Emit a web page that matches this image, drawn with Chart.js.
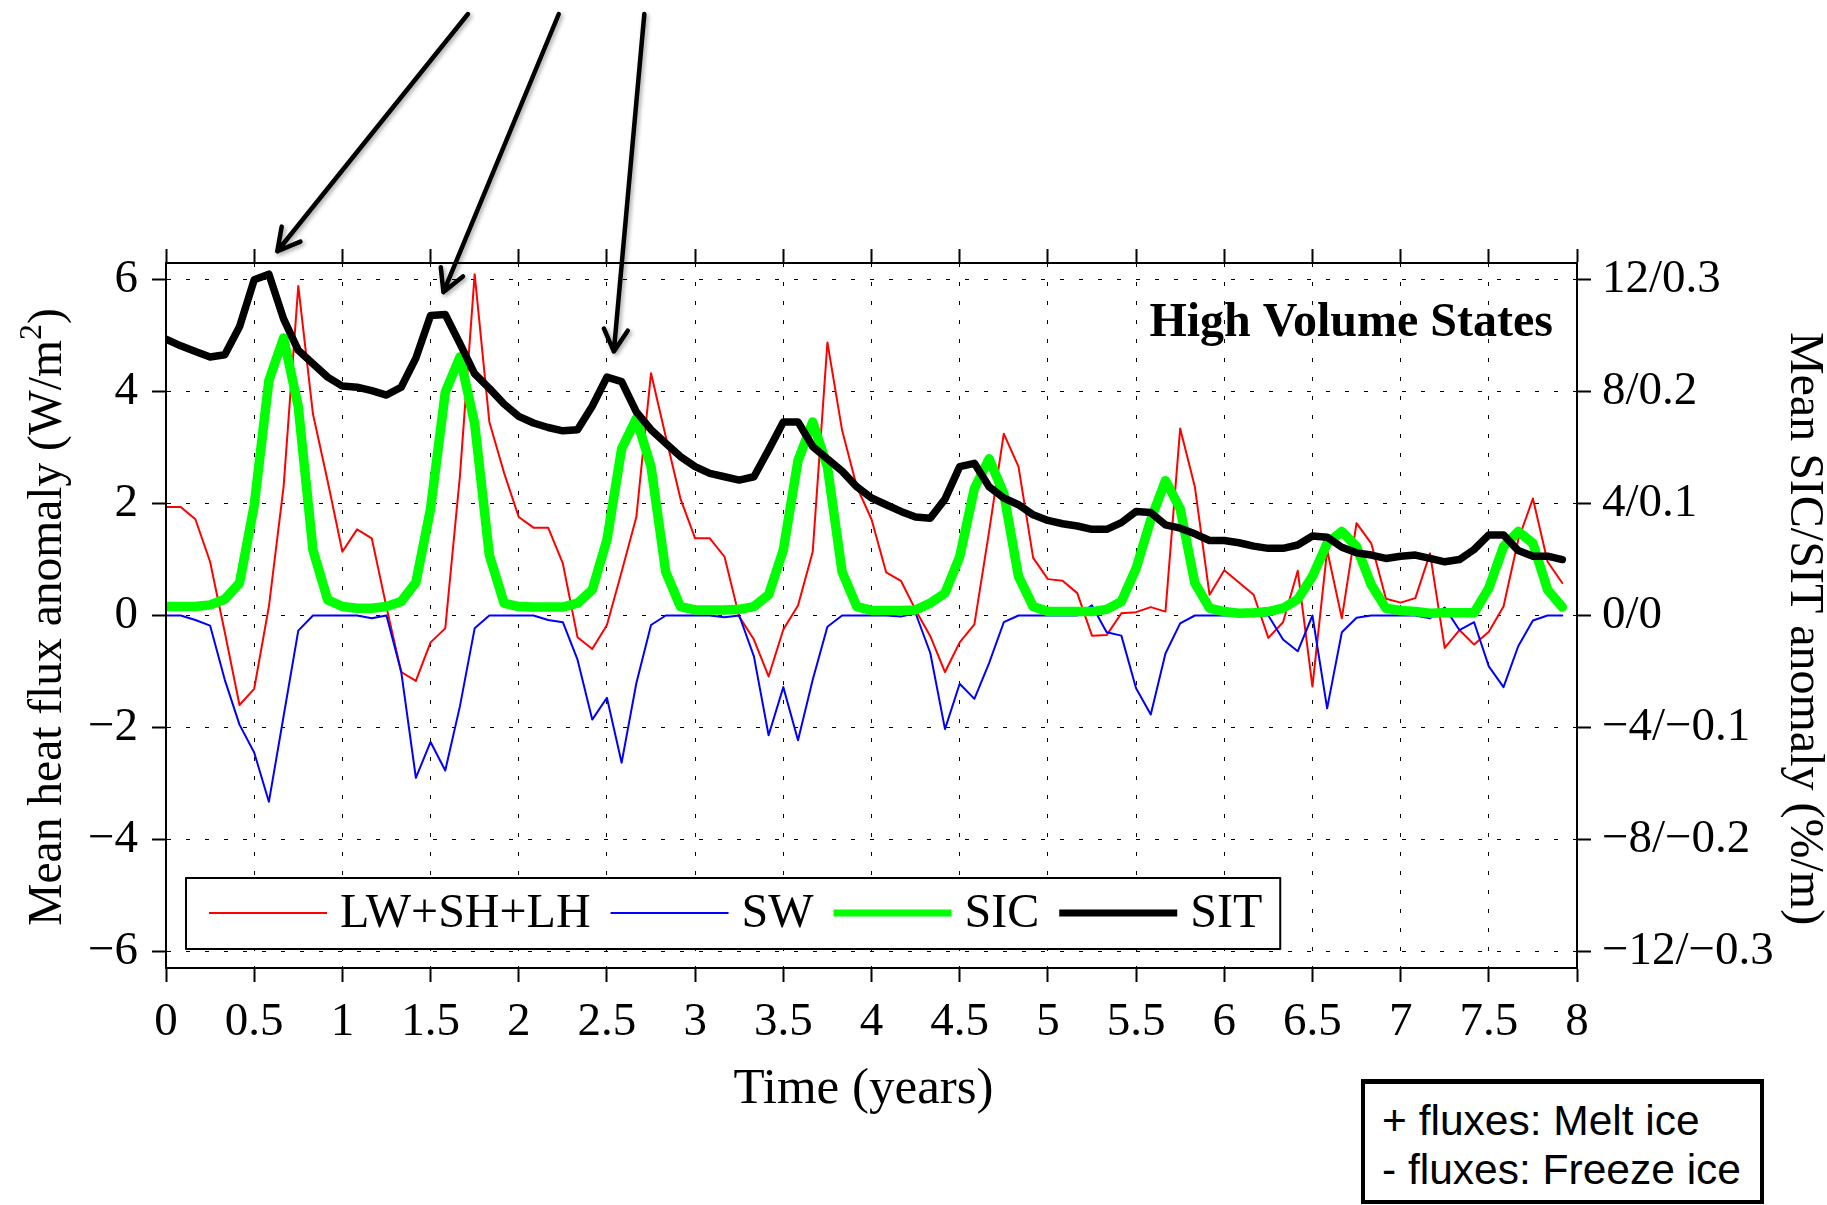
<!DOCTYPE html>
<html>
<head>
<meta charset="utf-8">
<script src="https://cdn.jsdelivr.net/npm/chart.js@4.4.1/dist/chart.umd.min.js"></script>
<style>
    html, body { margin: 0; padding: 0; background: #fff; }
    #wrap { position: relative; width: 1827px; height: 1205px; }
    #note {
        position: absolute; left: 1361px; top: 1079px; width: 403px; height: 125px;
        box-sizing: border-box; border: 4px solid #000; border-top-width: 5px;
        padding: 12px 0 0 17px; background: #fff; color: #000;
        font-family: 'Liberation Sans', Arial, sans-serif; font-size: 42.5px; line-height: 49px;
        white-space: nowrap;
    }
</style>
</head>
<body>
<div id="wrap">
    <canvas id="myChart01" width="1827" height="1205"></canvas>
    <div id="note">+ fluxes: Melt ice<br>- fluxes: Freeze ice</div>
</div>
<script>
//月資料 (8 年, 每月一點)
var timeYears = [];
for (var i = 0; i < 96; i++) timeYears.push(i / 12);

//LW+SH+LH (W/m2)
var fluxLwShLh = [
    1.94, 1.94, 1.72, 0.96, -0.30, -1.60, -1.31, 0.16, 2.30, 5.89, 3.60, 2.40,
    1.14, 1.54, 1.38, 0.15, -1.01, -1.17, -0.48, -0.23, 2.50, 6.10, 3.46, 2.55,
    1.76, 1.57, 1.57, 0.93, -0.39, -0.60, -0.17, 0.78, 1.76, 4.33, 3.20, 2.09,
    1.38, 1.38, 1.05, -0.02, -0.43, -1.09, -0.25, 0.18, 1.14, 4.88, 3.31, 2.30,
    1.72, 0.77, 0.62, 0.10, -0.37, -1.01, -0.48, -0.16, 1.50, 3.25, 2.66, 1.03,
    0.65, 0.62, 0.40, -0.36, -0.35, 0.04, 0.06, 0.15, 0.07, 3.34, 2.30, 0.37,
    0.81, 0.59, 0.37, -0.40, -0.12, 0.80, -1.27, 1.17, -0.05, 1.65, 1.29, 0.30,
    0.23, 0.31, 1.11, -0.58, -0.26, -0.52, -0.29, 0.16, 1.35, 2.09, 0.96, 0.58
];

//SW (W/m2)
var fluxSw = [
    0, 0, -0.08, -0.18, -1.15, -1.95, -2.45, -3.33, -1.80, -0.27, 0, 0,
    0, 0, -0.05, 0, -1.00, -2.90, -2.26, -2.77, -1.62, -0.23, 0, 0,
    0, 0, -0.08, -0.12, -0.79, -1.86, -1.47, -2.63, -1.21, -0.17, 0, 0,
    0, 0, -0.03, 0, -0.73, -2.14, -1.28, -2.23, -1.15, -0.20, 0, 0,
    0, 0, -0.02, 0.04, -0.67, -2.03, -1.22, -1.49, -0.85, -0.12, 0, 0,
    0, 0, 0, 0.18, -0.30, -0.36, -1.30, -1.77, -0.68, -0.14, 0, 0,
    0, 0, 0, 0, -0.43, -0.64, 0, -1.66, -0.30, -0.04, 0, 0,
    0, 0, -0.05, 0.14, -0.26, -0.12, -0.91, -1.28, -0.55, -0.09, 0, 0
];

//SIC (%)
var sicPercent = [
    0.32, 0.32, 0.32, 0.38, 0.58, 1.16, 3.94, 8.40, 9.92, 7.46, 2.34, 0.56,
    0.32, 0.26, 0.26, 0.32, 0.50, 1.18, 3.82, 7.98, 9.24, 6.86, 2.16, 0.44,
    0.32, 0.30, 0.30, 0.30, 0.44, 0.92, 2.70, 5.96, 7.04, 5.32, 1.56, 0.32,
    0.20, 0.20, 0.20, 0.22, 0.32, 0.74, 2.34, 5.54, 6.92, 5.32, 1.56, 0.32,
    0.18, 0.18, 0.18, 0.20, 0.44, 0.80, 2.10, 4.54, 5.60, 4.36, 1.40, 0.32,
    0.14, 0.14, 0.14, 0.14, 0.22, 0.50, 1.68, 3.42, 4.82, 3.82, 1.16, 0.26,
    0.14, 0.08, 0.10, 0.14, 0.26, 0.58, 1.40, 2.58, 3.00, 2.46, 1.10, 0.26,
    0.18, 0.14, 0.08, 0.10, 0.10, 0.10, 0.98, 2.46, 3.00, 2.58, 0.92, 0.30
];

//SIT (m)
var sitMetres = [
    0.247, 0.241, 0.236, 0.231, 0.233, 0.258, 0.300, 0.305, 0.265, 0.237, 0.225, 0.213,
    0.205, 0.204, 0.201, 0.197, 0.204, 0.230, 0.268, 0.269, 0.243, 0.216, 0.203, 0.189,
    0.178, 0.172, 0.168, 0.165, 0.166, 0.187, 0.213, 0.209, 0.182, 0.166, 0.154, 0.142,
    0.133, 0.127, 0.124, 0.121, 0.124, 0.148, 0.173, 0.173, 0.151, 0.140, 0.129, 0.115,
    0.105, 0.099, 0.093, 0.088, 0.087, 0.104, 0.133, 0.136, 0.115, 0.105, 0.099, 0.090,
    0.085, 0.082, 0.080, 0.077, 0.077, 0.083, 0.093, 0.092, 0.081, 0.078, 0.073, 0.067,
    0.067, 0.065, 0.062, 0.060, 0.060, 0.063, 0.071, 0.070, 0.061, 0.056, 0.054, 0.051,
    0.053, 0.054, 0.051, 0.048, 0.050, 0.059, 0.072, 0.072, 0.058, 0.053, 0.053, 0.050
];

var xTicks = [0, 0.5, 1, 1.5, 2, 2.5, 3, 3.5, 4, 4.5, 5, 5.5, 6, 6.5, 7, 7.5, 8];
var xTickLabels = ['0', '0.5', '1', '1.5', '2', '2.5', '3', '3.5', '4', '4.5', '5', '5.5', '6', '6.5', '7', '7.5', '8'];
var yTicks = [-6, -4, -2, 0, 2, 4, 6];
var yTickLabels = ['\u22126', '\u22124', '\u22122', '0', '2', '4', '6'];
var y2Ticks = [-12, -8, -4, 0, 4, 8, 12];
var y2TickLabels = ['\u221212/\u22120.3', '\u22128/\u22120.2', '\u22124/\u22120.1', '0/0', '4/0.1', '8/0.2', '12/0.3'];

var panelTitle = 'High Volume States';
var xTitle = 'Time (years)';
var yTitleParts = ['Mean heat flux anomaly (W/m', '2', ')'];
var y2Title = 'Mean SIC/SIT anomaly (%/m)';

//箭頭 (資料座標: 年, W/m2)
var arrows = [
    {x0: 1.712, y0: 10.75, x1: 0.631, y1: 6.51},
    {x0: 2.227, y0: 10.75, x1: 1.573, y1: 5.78},
    {x0: 2.712, y0: 10.75, x1: 2.539, y1: 4.72}
];

var serif = "'Liberation Serif', 'Times New Roman', serif";

function pairs(values) {
    return values.map(function (v, i) { return {x: timeYears[i], y: v}; });
}

function fixedTicks(list) {
    return function (axis) {
        axis.ticks = list.map(function (v) { return {value: v}; });
    };
}

var annotations = {
    id: 'annotations',
    afterDraw: function (chart) {
        var ctx = chart.ctx;
        var area = chart.chartArea;
        var sx = chart.scales.x;
        var sy = chart.scales.y;
        var midY = (area.top + area.bottom) / 2;
        ctx.save();
        ctx.fillStyle = '#000';

        //標題
        ctx.font = 'bold 48px ' + serif;
        ctx.textAlign = 'right';
        ctx.textBaseline = 'alphabetic';
        ctx.fillText(panelTitle, area.right - 24, area.top + 73);

        //x 軸標題
        ctx.font = '51px ' + serif;
        ctx.textAlign = 'center';
        ctx.textBaseline = 'middle';
        ctx.fillText(xTitle, (area.left + area.right) / 2 - 8, area.bottom + 122);

        //右側軸標題
        ctx.save();
        ctx.translate(chart.width - 23, midY + 13);
        ctx.rotate(Math.PI / 2);
        ctx.font = '48px ' + serif;
        ctx.fillText(y2Title, 0, 0);
        ctx.restore();

        //y 軸標題 (含上標)
        ctx.save();
        ctx.translate(49, midY + 1.5);
        ctx.rotate(-Math.PI / 2);
        ctx.textAlign = 'left';
        var mainFont = '47.5px ' + serif, supFont = '32px ' + serif;
        ctx.font = mainFont;
        var w0 = ctx.measureText(yTitleParts[0]).width;
        var w2 = ctx.measureText(yTitleParts[2]).width;
        ctx.font = supFont;
        var w1 = ctx.measureText(yTitleParts[1]).width;
        var tx = -(w0 + w1 + w2) / 2;
        ctx.font = mainFont;
        ctx.fillText(yTitleParts[0], tx, 0);
        ctx.font = supFont;
        ctx.fillText(yTitleParts[1], tx + w0, -16);
        ctx.font = mainFont;
        ctx.fillText(yTitleParts[2], tx + w0 + w1, 0);
        ctx.restore();

        //箭頭
        ctx.strokeStyle = '#000';
        ctx.lineWidth = 4.5;
        ctx.lineCap = 'round';
        ctx.lineJoin = 'round';
        ctx.shadowColor = 'rgba(0,0,0,0.35)';
        ctx.shadowBlur = 4;
        ctx.shadowOffsetX = 2;
        ctx.shadowOffsetY = 2;
        arrows.forEach(function (a) {
            var px0 = sx.getPixelForValue(a.x0), py0 = sy.getPixelForValue(a.y0);
            var px1 = sx.getPixelForValue(a.x1), py1 = sy.getPixelForValue(a.y1);
            var ang = Math.atan2(py1 - py0, px1 - px0);
            var len = 25, spread = 0.5;
            ctx.beginPath();
            ctx.moveTo(px0, py0);
            ctx.lineTo(px1, py1);
            ctx.moveTo(px1 - len * Math.cos(ang - spread), py1 - len * Math.sin(ang - spread));
            ctx.lineTo(px1, py1);
            ctx.lineTo(px1 - len * Math.cos(ang + spread), py1 - len * Math.sin(ang + spread));
            ctx.stroke();
        });
        ctx.shadowColor = 'transparent';
        ctx.shadowBlur = 0;
        ctx.shadowOffsetX = 0;
        ctx.shadowOffsetY = 0;

        //圖例
        ctx.font = '48px ' + serif;
        var boxLeft = area.left + 20, boxTop = area.bottom - 90, boxH = 71;
        var cy = boxTop + 35;
        var cx = boxLeft + 23;
        var items = chart.data.datasets.map(function (ds) {
            var it = {ds: ds, lineX: cx, textX: cx + 131};
            cx = it.textX + ctx.measureText(ds.label).width + 20;
            return it;
        });
        var boxW = cx - 20 + 18 - boxLeft;
        ctx.fillStyle = '#fff';
        ctx.fillRect(boxLeft, boxTop, boxW, boxH);
        ctx.lineWidth = 2;
        ctx.lineCap = 'butt';
        ctx.strokeStyle = '#000';
        ctx.strokeRect(boxLeft, boxTop, boxW, boxH);
        ctx.textAlign = 'left';
        ctx.textBaseline = 'middle';
        items.forEach(function (it) {
            ctx.strokeStyle = it.ds.borderColor;
            ctx.lineWidth = Math.min(it.ds.borderWidth, 7);
            ctx.beginPath();
            ctx.moveTo(it.lineX, cy);
            ctx.lineTo(it.lineX + 118, cy);
            ctx.stroke();
            ctx.fillStyle = '#000';
            ctx.fillText(it.ds.label, it.textX, cy + 1);
        });
        ctx.restore();
    }
};

var ctx01 = document.getElementById('myChart01');
var chart01 = new Chart(ctx01, {
    type: 'line',
    data: {
        datasets: [{
            label: 'LW+SH+LH',
            data: pairs(fluxLwShLh),
            borderColor: '#ff0000',
            borderWidth: 2,
            yAxisID: 'y',
            order: 3
        }, {
            label: 'SW',
            data: pairs(fluxSw),
            borderColor: '#0000ff',
            borderWidth: 2,
            yAxisID: 'y',
            order: 2
        }, {
            label: 'SIC',
            data: pairs(sicPercent),
            borderColor: '#00ff00',
            borderWidth: 9.5,
            yAxisID: 'y2',
            order: 1
        }, {
            label: 'SIT',
            data: pairs(sitMetres),
            borderColor: '#000000',
            borderWidth: 7.5,
            yAxisID: 'y3',
            order: 0
        }]
    },
    options: {
        responsive: false,
        animation: false,
        layout: {padding: 0},
        elements: {
            point: {radius: 0},
            line: {tension: 0, fill: false, borderJoinStyle: 'round', borderCapStyle: 'round'}
        },
        plugins: {
            legend: {display: false},
            tooltip: {enabled: false}
        },
        scales: {
            x: {
                type: 'linear', position: 'bottom', min: 0, max: 8,
                afterBuildTicks: fixedTicks(xTicks),
                afterFit: function (a) { a.height = 237; },
                ticks: {
                    autoSkip: false, maxRotation: 0, padding: 12, color: '#000',
                    font: {family: serif, size: 47},
                    callback: function (v, i) { return xTickLabels[i]; }
                },
                grid: {color: '#000', lineWidth: 1, tickLength: 14, tickWidth: 2, tickColor: '#000'},
                border: {display: true, color: '#000', width: 2, dash: [4, 15], z: 1}
            },
            xTop: {
                type: 'linear', position: 'top', min: 0, max: 8,
                afterBuildTicks: fixedTicks(xTicks),
                afterFit: function (a) { a.height = 263; },
                ticks: {display: false},
                grid: {drawOnChartArea: false, color: '#000', tickLength: 14, tickWidth: 2, tickColor: '#000'},
                border: {display: true, color: '#000', width: 2, z: 1}
            },
            y: {
                type: 'linear', position: 'left', min: -6.3, max: 6.3,
                afterBuildTicks: fixedTicks(yTicks),
                afterFit: function (a) { a.width = 166; },
                ticks: {
                    autoSkip: false, padding: 14, color: '#000',
                    font: {family: serif, size: 47},
                    callback: function (v, i) { return yTickLabels[i]; }
                },
                grid: {color: '#000', lineWidth: 1, tickLength: 14, tickWidth: 2, tickColor: '#000'},
                border: {display: true, color: '#000', width: 2, dash: [4, 15], z: 1}
            },
            y2: {
                type: 'linear', position: 'right', min: -12.6, max: 12.6,
                afterBuildTicks: fixedTicks(y2Ticks),
                afterFit: function (a) { a.width = 250; },
                ticks: {
                    autoSkip: false, padding: 11, color: '#000',
                    font: {family: serif, size: 47},
                    callback: function (v, i) { return y2TickLabels[i]; }
                },
                grid: {drawOnChartArea: false, color: '#000', tickLength: 14, tickWidth: 2, tickColor: '#000'},
                border: {display: true, color: '#000', width: 2, z: 1}
            },
            y3: {
                type: 'linear', display: false, min: -0.315, max: 0.315
            }
        }
    },
    plugins: [annotations]
});
</script>
</body>
</html>
